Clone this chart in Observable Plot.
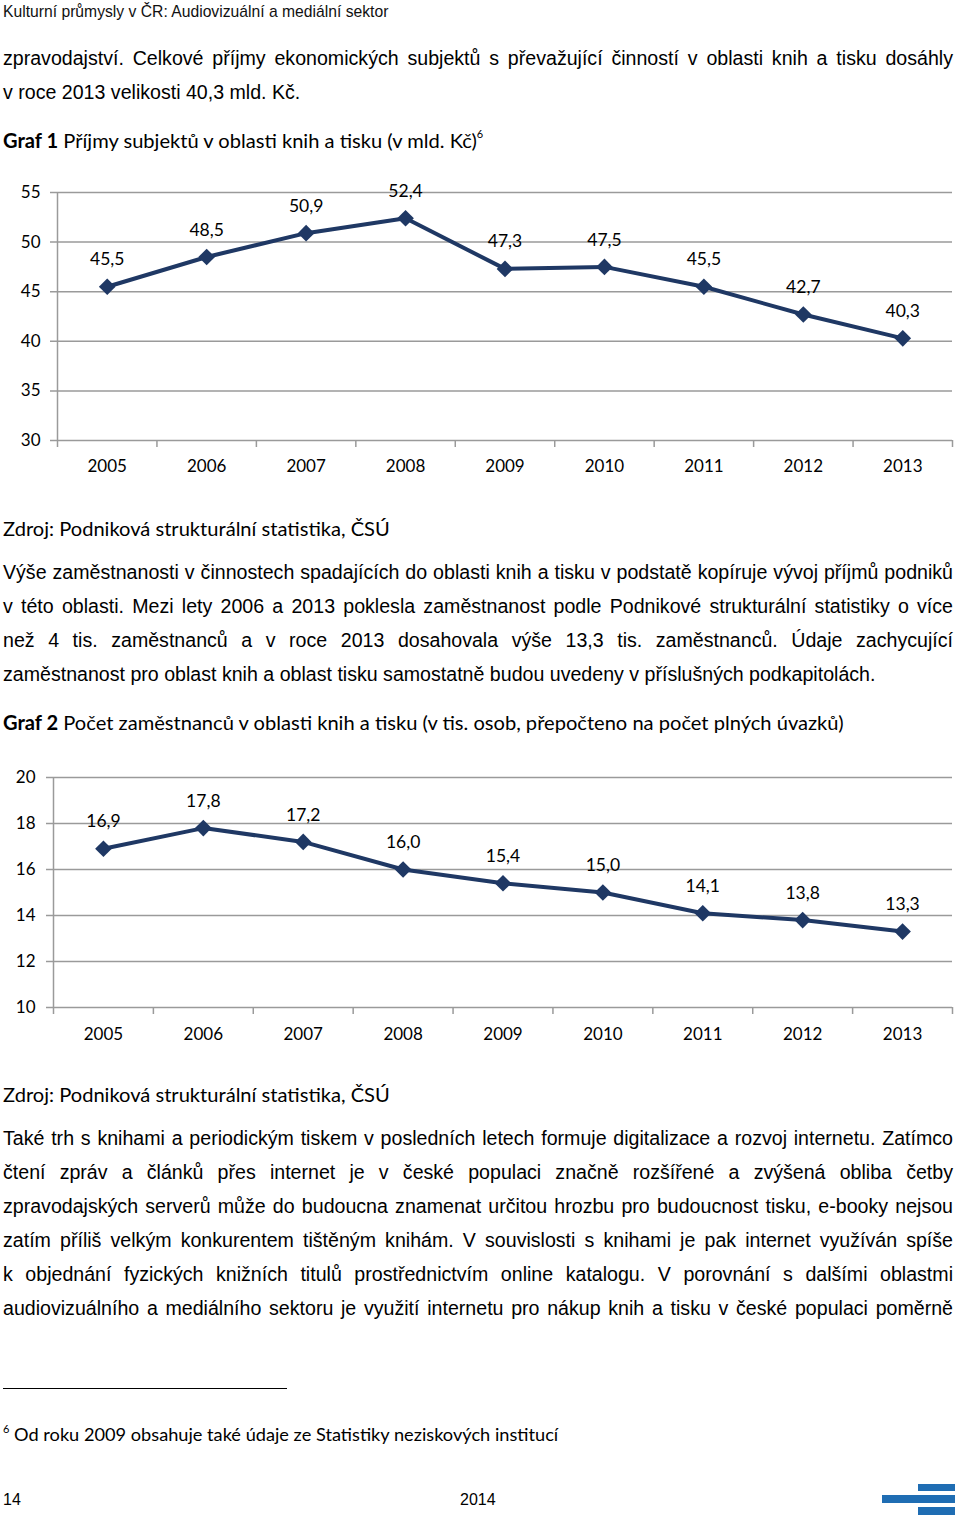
<!DOCTYPE html>
<html lang="cs"><head><meta charset="utf-8">
<script src="https://cdn.jsdelivr.net/npm/d3@7"></script>
<script src="https://cdn.jsdelivr.net/npm/@observablehq/plot@0.6"></script>
<style>
html,body{margin:0;padding:0;background:#fff;}
body{width:960px;height:1521px;position:relative;overflow:hidden;color:#000;}
.a{position:absolute;left:3px;white-space:nowrap;}
.arial{font-family:"Liberation Sans",Arial,sans-serif;font-size:19.6px;line-height:34px;height:34px;}
.cal{font-family:Lato,"Open Sans",sans-serif;font-size:20.1px;line-height:30px;height:30px;}
.hdr{font-family:"Liberation Sans",Arial,sans-serif;font-size:15.7px;line-height:20px;top:2px;color:#111;}
.chart{position:absolute;left:0;}
.bar{position:absolute;background:#1f6db3;}
sup{font-size:11px;vertical-align:top;position:relative;top:-6px;}
.foot{font-family:'Liberation Sans Narrow','Liberation Sans',sans-serif;font-size:16px;line-height:20px;top:1490px;}
</style></head>
<body>
<div class="a hdr">Kulturní průmysly v ČR: Audiovizuální a mediální sektor</div>

<div class="a arial j" style="top:41px">zpravodajství. Celkové příjmy ekonomických subjektů s převažující činností v oblasti knih a tisku dosáhly</div>
<div class="a arial" style="top:75px">v roce 2013 velikosti 40,3 mld. Kč.</div>

<div class="a cal" style="top:125px"><b>Graf 1</b> Příjmy subjektů v oblasti knih a tisku (v mld. Kč)<sup>6</sup></div>

<div class="chart" id="chart1" style="top:170px"></div>

<div class="a cal" style="top:513px">Zdroj: Podniková strukturální statistika, ČSÚ</div>

<div class="a arial j" style="top:555px">Výše zaměstnanosti v činnostech spadajících do oblasti knih a tisku v podstatě kopíruje vývoj příjmů podniků</div>
<div class="a arial j" style="top:589px">v této oblasti. Mezi lety 2006 a 2013 poklesla zaměstnanost podle Podnikové strukturální statistiky o více</div>
<div class="a arial j" style="top:623px">než 4 tis. zaměstnanců a v roce 2013 dosahovala výše 13,3 tis. zaměstnanců. Údaje zachycující</div>
<div class="a arial" style="top:657px">zaměstnanost pro oblast knih a oblast tisku samostatně budou uvedeny v příslušných podkapitolách.</div>

<div class="a cal" style="top:707px"><b>Graf 2</b> Počet zaměstnanců v oblasti knih a tisku (v tis. osob, přepočteno na počet plných úvazků)</div>

<div class="chart" id="chart2" style="top:760px"></div>

<div class="a cal" style="top:1079px">Zdroj: Podniková strukturální statistika, ČSÚ</div>

<div class="a arial j" style="top:1121px">Také trh s knihami a periodickým tiskem v posledních letech formuje digitalizace a rozvoj internetu. Zatímco</div>
<div class="a arial j" style="top:1155px">čtení zpráv a článků přes internet je v české populaci značně rozšířené a zvýšená obliba četby</div>
<div class="a arial j" style="top:1189px">zpravodajských serverů může do budoucna znamenat určitou hrozbu pro budoucnost tisku, e-booky nejsou</div>
<div class="a arial j" style="top:1223px">zatím příliš velkým konkurentem tištěným knihám. V souvislosti s knihami je pak internet využíván spíše</div>
<div class="a arial j" style="top:1257px">k objednání fyzických knižních titulů prostřednictvím online katalogu. V porovnání s dalšími oblastmi</div>
<div class="a arial j" style="top:1291px">audiovizuálního a mediálního sektoru je využití internetu pro nákup knih a tisku v české populaci poměrně</div>

<div style="position:absolute;left:3px;top:1388px;width:284px;height:1px;background:#000;"></div>
<div class="a cal" style="top:1419px;font-size:18.2px;left:3px"><sup style="font-size:11px;top:-5px">6</sup> Od roku 2009 obsahuje také údaje ze Statistiky neziskových institucí</div>

<div class="a foot">14</div>
<div class="a foot" style="left:460px">2014</div>

<div class="bar" style="left:918px;top:1484px;width:37px;height:7px"></div>
<div class="bar" style="left:882px;top:1495px;width:73px;height:8px"></div>
<div class="bar" style="left:918px;top:1507px;width:37px;height:8px"></div>

<script>
// ---- data ----
const years = [2005, 2006, 2007, 2008, 2009, 2010, 2011, 2012, 2013];
const revenue = [45.5, 48.5, 50.9, 52.4, 47.3, 47.5, 45.5, 42.7, 40.3];
const employees = [16.9, 17.8, 17.2, 16.0, 15.4, 15.0, 14.1, 13.8, 13.3];
const revenueTicks = [30, 35, 40, 45, 50, 55];
const employeeTicks = [10, 12, 14, 16, 18, 20];

const LINE = "#1f3864";
const GRID = "#9a9a9a";

function chart(values, yTicks, o) {
  const data = years.map((y, i) => ({year: y, value: values[i]}));
  const bounds = [...years.map(y => y - 0.5), years[years.length - 1] + 0.5];
  return Plot.plot({
    width: 960, height: o.height,
    marginTop: o.marginTop, marginBottom: o.marginBottom,
    marginLeft: o.marginLeft, marginRight: 8,
    style: {fontFamily: "Lato, 'Open Sans', sans-serif", fontSize: "17px", color: "#000", background: "transparent", overflow: "visible"},
    x: {domain: [bounds[0], bounds[bounds.length - 1]], label: null},
    y: {domain: [yTicks[0], yTicks[yTicks.length - 1]], label: null},
    marks: [
      Plot.ruleY(yTicks, {stroke: GRID, strokeWidth: 1.5, insetLeft: -7}),
      Plot.ruleX([bounds[0]], {stroke: GRID, strokeWidth: 1.5}),
      Plot.axisX({ticks: bounds, tickFormat: () => "", tickSize: 7, stroke: GRID, strokeWidth: 1.5, strokeOpacity: 1, label: null}),
      Plot.axisX({ticks: years, tickSize: 0, tickPadding: o.xPad, tickFormat: d => String(d), fill: "#000", label: null}),
      Plot.axisY({ticks: yTicks, tickSize: 0, tickPadding: o.yPad, tickFormat: d => String(d), fill: "#000", label: null}),
      Plot.line(data, {x: "year", y: "value", stroke: LINE, strokeWidth: 4}),
      Plot.dot(data, {x: "year", y: "value", symbol: "diamond2", r: 7.5, fill: LINE, stroke: "none"}),
      Plot.text(data, {x: "year", y: "value", text: d => d.value.toFixed(1).replace(".", ","), dy: -27, fontSize: 17.5, fill: "#000"})
    ]
  });
}

document.getElementById("chart1").append(chart(revenue, revenueTicks, {height: 310, marginTop: 22, marginBottom: 40, marginLeft: 57, xPad: 19, yPad: 17}));
document.getElementById("chart2").append(chart(employees, employeeTicks, {height: 290, marginTop: 17, marginBottom: 43, marginLeft: 53, xPad: 20, yPad: 18}));

function justify() {
  document.querySelectorAll(".j").forEach(el => {
    el.style.wordSpacing = "0px";
    const r = document.createRange();
    r.selectNodeContents(el);
    const w = r.getBoundingClientRect().width;
    const spaces = (el.textContent.match(/ /g) || []).length;
    if (spaces) el.style.wordSpacing = ((950 - w) / spaces) + "px";
  });
}
justify();
if (document.fonts && document.fonts.ready) document.fonts.ready.then(justify);
</script>
</body></html>
